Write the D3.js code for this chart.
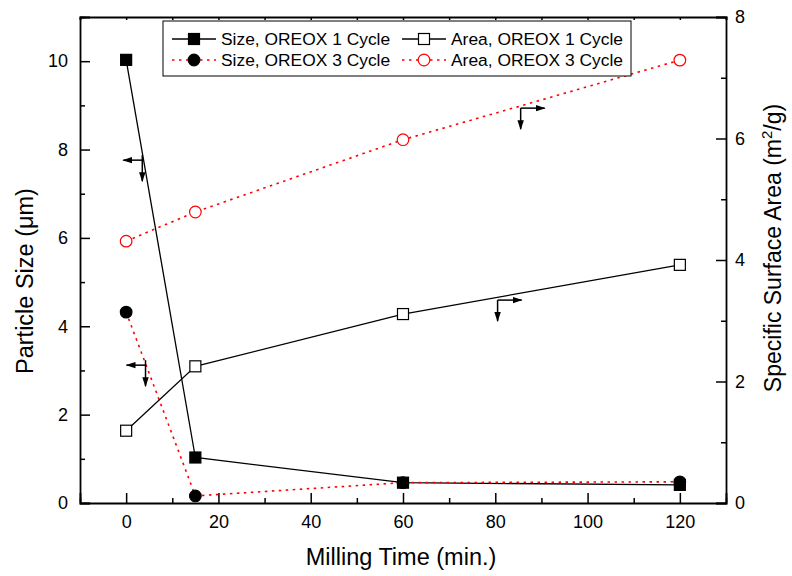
<!DOCTYPE html>
<html lang="en">
<head>
<meta charset="UTF-8">
<title>Particle Size and Surface Area</title>
<script src="https://d3js.org/d3.v7.min.js"></script>
<style>
  body { margin: 0; background: white; }
  svg { font-family: "Liberation Sans", Arial, sans-serif; }
  .tick text { font-size: 18px; fill: black; }
  .tick line, .domain { stroke: black; }
</style>
</head>
<body>
<svg id="chart"></svg>
<script>
// milling time (min.)
const millingTime = [0, 15, 60, 120];
// particle size, um (left axis)
const size1Cycle = [10.03, 1.03, 0.46, 0.41];
const size3Cycle = [4.32, 0.16, 0.46, 0.48];
// specific surface area, m2/g (right axis)
const area1Cycle = [1.19, 2.25, 3.11, 3.92];
const area3Cycle = [4.31, 4.79, 5.98, 7.29];

const xMajor = [0, 20, 40, 60, 80, 100, 120];
const xMinor = [-10, 10, 30, 50, 70, 90, 110, 130];
const leftMajor = [0, 2, 4, 6, 8, 10];
const leftMinor = [1, 3, 5, 7, 9, 11];
const rightMajor = [0, 2, 4, 6, 8];
const rightMinor = [1, 3, 5, 7];

// little corner arrows that tell which axis a series belongs to
const arrowNotes = [
  {x: 3.5, y: 7.76, axis: "left"},
  {x: 4.2, y: 3.12, axis: "left"},
  {x: 85.5, y: 6.5, axis: "right"},
  {x: 80.5, y: 3.34, axis: "right"}
];

const w = 792, h = 576;
const m = {left: 80, right: 66, top: 17, bottom: 73};

const svg = d3.select("#chart").attr("width", w).attr("height", h);

const x = d3.scaleLinear().domain([-10, 130]).range([m.left, w - m.right]);
const yL = d3.scaleLinear().domain([0, 11]).range([h - m.bottom, m.top]);
const yR = d3.scaleLinear().domain([0, 8]).range([h - m.bottom, m.top]);

svg.append("defs").append("marker")
   .attr("id", "head")
   .attr("viewBox", "0 0 10 10")
   .attr("refX", 9).attr("refY", 5)
   .attr("markerWidth", 10).attr("markerHeight", 10)
   .attr("markerUnits", "userSpaceOnUse")
   .attr("orient", "auto")
   .append("path").attr("d", "M0,1.8 L10,5 L0,8.2 Z").attr("fill", "black");

// axes
function axisGroup(axis, tx, ty, size, pad, vals, fmt) {
  const g = svg.append("g")
     .attr("transform", "translate(" + tx + "," + ty + ")")
     .call(axis.tickValues(vals).tickSize(size).tickPadding(pad).tickFormat(fmt));
  g.selectAll(".tick line").attr("stroke-width", 1.5);
  g.select(".domain").attr("stroke-width", 1.8);
  return g;
}
const bottomY = h - m.bottom;
axisGroup(d3.axisBottom(x), 0, bottomY, -10, 12, xMajor, d3.format("d"));
axisGroup(d3.axisBottom(x), 0, bottomY, -5, 0, xMinor, "").select(".domain").remove();
axisGroup(d3.axisTop(x), 0, m.top, -3, 0, xMajor.concat(xMinor), "");
axisGroup(d3.axisLeft(yL), m.left, 0, -10, 12, leftMajor, d3.format("d"));
axisGroup(d3.axisLeft(yL), m.left, 0, -5, 0, leftMinor, "").select(".domain").remove();
axisGroup(d3.axisRight(yR), w - m.right, 0, -10, 9, rightMajor, d3.format("d"));
axisGroup(d3.axisRight(yR), w - m.right, 0, -5, 0, rightMinor, "").select(".domain").remove();
svg.selectAll(".tick text").attr("font-size", 18);

// series
const series = [
  {vals: size1Cycle, y: yL, color: "black", dash: null, shape: "square", fill: "black", label: "Size, OREOX 1 Cycle"},
  {vals: size3Cycle, y: yL, color: "red", dash: "2.5,4.5", shape: "circle", fill: "black", label: "Size, OREOX 3 Cycle"},
  {vals: area1Cycle, y: yR, color: "black", dash: null, shape: "square", fill: "white", label: "Area, OREOX 1 Cycle"},
  {vals: area3Cycle, y: yR, color: "red", dash: "2.5,4.5", shape: "circle", fill: "white", label: "Area, OREOX 3 Cycle"}
];

function drawMarker(g, s, cx, cy) {
  const stroke = s.fill === "black" ? "black" : s.color;
  if (s.shape === "square") {
    g.append("rect").attr("x", cx - 5.5).attr("y", cy - 5.5)
     .attr("width", 11).attr("height", 11)
     .attr("fill", s.fill).attr("stroke", stroke).attr("stroke-width", 1.2);
  } else {
    g.append("circle").attr("cx", cx).attr("cy", cy).attr("r", 5.8)
     .attr("fill", s.fill).attr("stroke", stroke).attr("stroke-width", 1.2);
  }
}

series.forEach(s => {
  const line = d3.line().x((d, i) => x(millingTime[i])).y(d => s.y(d));
  svg.append("path").datum(s.vals)
     .attr("d", line)
     .attr("fill", "none")
     .attr("stroke", s.color)
     .attr("stroke-width", s.dash ? 1.6 : 1.3)
     .attr("stroke-dasharray", s.dash);
});
series.forEach(s => {
  const g = svg.append("g");
  s.vals.forEach((v, i) => drawMarker(g, s, x(millingTime[i]), s.y(v)));
});

// axis arrows
arrowNotes.forEach(a => {
  const cx = x(a.x);
  const cy = a.axis === "left" ? yL(a.y) : yR(a.y);
  const dx = a.axis === "left" ? -19 : 24;
  svg.append("line").attr("x1", cx).attr("y1", cy).attr("x2", cx + dx).attr("y2", cy)
     .attr("stroke", "black").attr("stroke-width", 1.5).attr("marker-end", "url(#head)");
  svg.append("line").attr("x1", cx).attr("y1", cy - (a.axis === "left" ? 5 : 0))
     .attr("x2", cx).attr("y2", cy + 21)
     .attr("stroke", "black").attr("stroke-width", 1.5).attr("marker-end", "url(#head)");
});

// legend
const legend = svg.append("g");
legend.append("rect").attr("x", 163).attr("y", 21).attr("width", 468).attr("height", 55)
      .attr("fill", "white").attr("stroke", "black").attr("stroke-width", 1);
const legendPos = [[172, 39], [172, 60], [402, 39], [402, 60]];
series.forEach((s, i) => {
  const [lx, ly] = legendPos[i];
  legend.append("line").attr("x1", lx).attr("y1", ly).attr("x2", lx + 44).attr("y2", ly)
        .attr("stroke", s.color).attr("stroke-width", s.dash ? 1.6 : 1.3)
        .attr("stroke-dasharray", s.dash);
  drawMarker(legend, s, lx + 22, ly);
  legend.append("text").attr("x", lx + 49).attr("y", ly + 6)
        .attr("font-size", 17.4).text(s.label);
});

// axis titles
svg.append("text")
   .attr("x", 401).attr("y", 565)
   .attr("text-anchor", "middle").attr("font-size", 23.5)
   .text("Milling Time (min.)");

svg.append("text")
   .attr("transform", "translate(33,281) rotate(-90)")
   .attr("text-anchor", "middle").attr("font-size", 23.5)
   .text("Particle Size (\u03bcm)");

const rt = svg.append("text")
   .attr("transform", "translate(781,248) rotate(-90)")
   .attr("text-anchor", "middle").attr("font-size", 23);
rt.append("tspan").text("Specific Surface Area (m");
rt.append("tspan").attr("font-size", 15).attr("dy", -9).text("2");
rt.append("tspan").attr("dy", 9).text("/g)");
</script>
</body>
</html>
